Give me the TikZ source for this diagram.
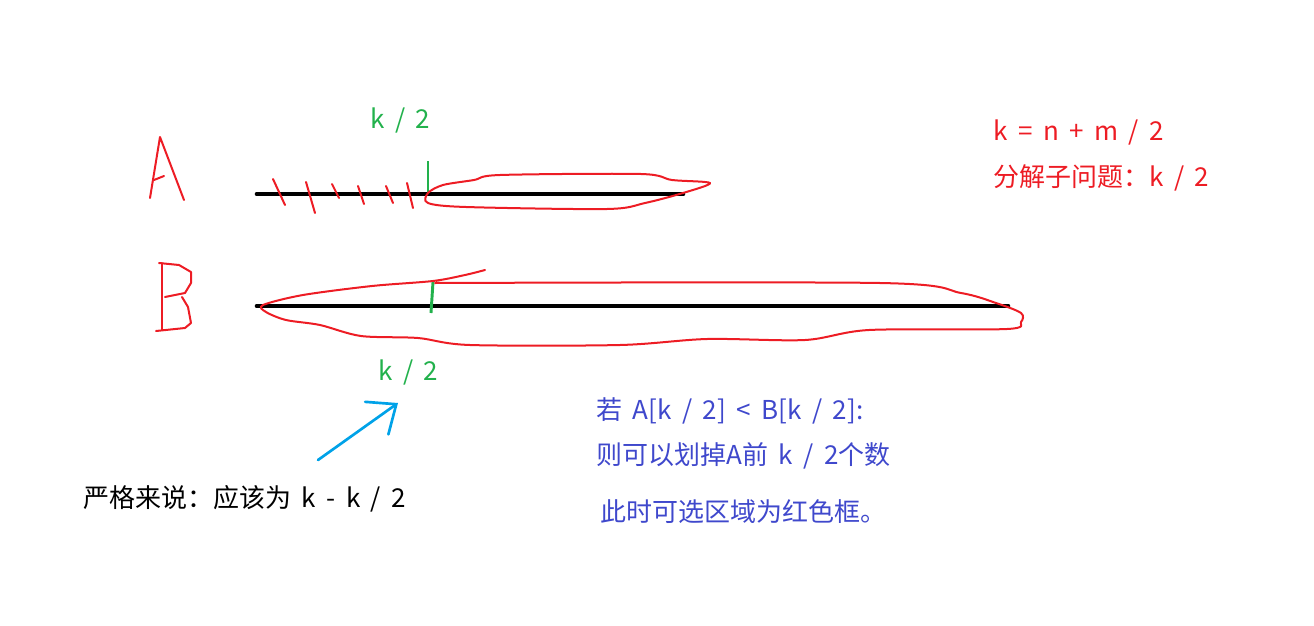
\documentclass[tikz,border=0pt]{standalone}
\usepackage{fontspec}
\setmainfont[WordSpace=1.8]{Noto Sans CJK SC}
\usetikzlibrary{arrows.meta}
\definecolor{paintred}{RGB}{237,28,36}
\definecolor{paintgreen}{RGB}{34,177,76}
\definecolor{paintblue}{RGB}{0,162,232}
\definecolor{paintindigo}{RGB}{63,72,204}

\begin{document}
\begin{tikzpicture}[x=0.75pt,y=-0.75pt, note/.style={anchor=west, inner sep=0pt, font=\fontsize{19.5}{23}\selectfont}, pen/.style={draw=paintred, line width=1.5pt, line cap=round, line join=round}, bar/.style={draw=black, line width=3.5pt, line cap=round}, tick/.style={draw=paintgreen, line width=2.2pt}, pointer/.style={draw=paintblue, line width=2pt, line cap=round, -{Straight Barb[length=18pt,width=30pt,line cap=round]}}]
\useasboundingbox (0,0) rectangle (1314,625);
% hand letters
\draw[pen] (150,198) -- (160,137) -- (184,200);
\draw[pen] (154,180) -- (164,176);
\draw[pen] (162,263) -- (162,330);
\draw[pen] (159,263) -- (179,265) -- (191,272) -- (191,283) -- (185,293) -- (165,297);
\draw[pen] (182,297) -- (188,307) -- (191,323) -- (185,328) -- (156,331);
% arrays
\coordinate (a0) at (257,194);
\coordinate (a1) at (683,194);
\coordinate (b0) at (257,306);
\coordinate (b1) at (1008,306);
\draw[bar] (a0) -- (a1);
\draw[bar] (b0) -- (b1);
% crossed out part of A
\foreach \x/\y/\u/\v in {273/179/285/205, 306/182/315/213, 332/184/339/198, 358/186/364/204, 386/186/393/203, 407/183/413/208}
  \draw[pen] (\x,\y) -- (\u,\v);
\draw[tick] (428,161) -- (428,193);
\draw[tick] (433,282) -- (431,313);
% red frames
\draw[pen] plot[smooth cycle, tension=0.5] coordinates {(428,193) (443,185) (474,180) (500,175) (641,174) (672,180) (710,183) (683,193) (645,203) (607,209) (466,207) (428,203)};
\draw[pen] plot[smooth, tension=0.5] coordinates {(485,270) (465,275) (433,281) (372,286) (303,295) (263,305) (266,312) (286,320) (320,325) (361,336) (418,338) (470,345) (620,345) (707,339) (805,340) (869,330) (1007,329) (1021,322) (1021,313) (996,303) (961,293) (880,283) (435,283)};
% labels
\node[note, text=paintgreen] (ka) at (370,120) {k / 2};
\node[note, text=paintgreen] (kb) at (378,372) {k / 2};
\node[note, text=paintred] (kdef) at (993,132) {k = n + m / 2};
\node[note, text=paintred] (sub) at (993,178) {分解子问题：k / 2};
\node[note, text=paintindigo] (cond) at (596,411) {若 A[k / 2] < B[k / 2]:};
\node[note, text=paintindigo] (drop) at (596,456) {则可以划掉A前 k / 2个数};
\node[note, text=paintindigo] (area) at (600,512) {此时可选区域为红色框。};
\node[note] (strict) at (83,499) {严格来说：应该为 k - k / 2};
\coordinate (tail) at (318,460);
\coordinate (tip) at (398,403);
\draw[pointer] (tail) -- (tip);
\end{tikzpicture}
\end{document}
